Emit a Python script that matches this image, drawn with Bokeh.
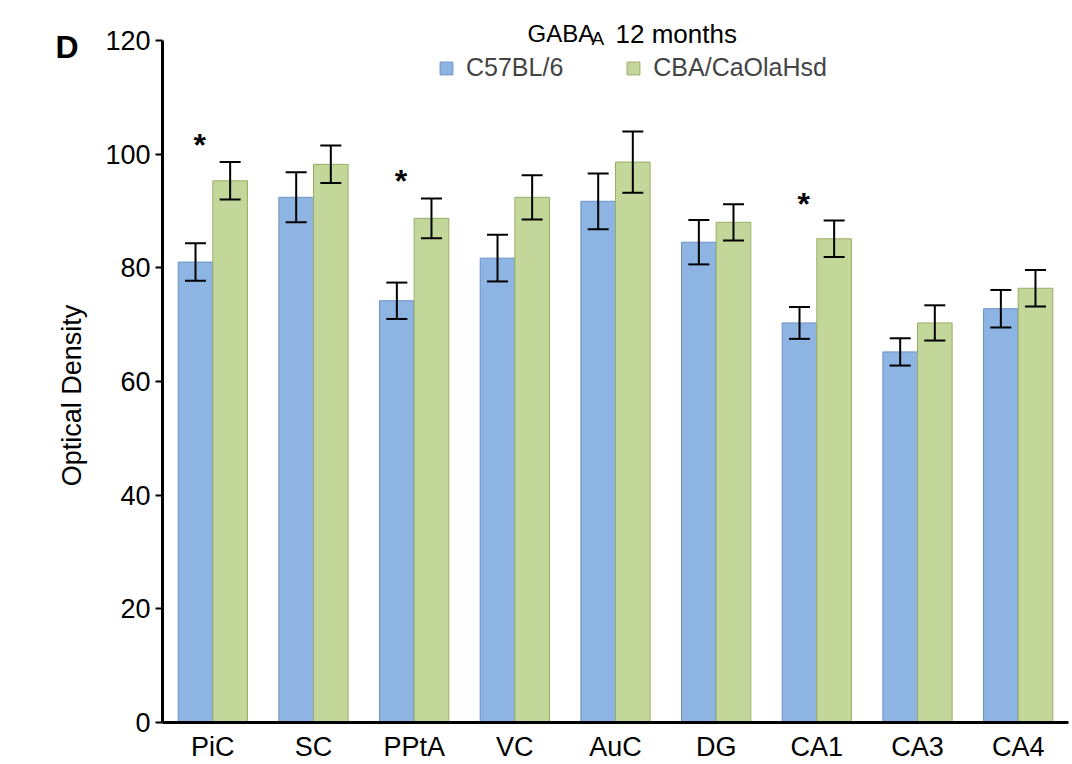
import math
from bokeh.plotting import figure
from bokeh.layouts import row
from bokeh.models import (ColumnDataSource, FactorRange, Range1d, Whisker, TeeHead,
                          Legend, LegendItem, Label, FixedTicker)
from bokeh.transform import dodge
from bokeh.core.properties import value
from bokeh.embed import file_html
from bokeh.resources import INLINE

categories = ["PiC", "SC", "PPtA", "VC", "AuC", "DG", "CA1", "CA3", "CA4"]
c57_mean = [81.0, 92.4, 74.2, 81.7, 91.7, 84.5, 70.3, 65.2, 72.8]
c57_err = [3.3, 4.4, 3.2, 4.1, 4.9, 3.9, 2.8, 2.4, 3.3]
cba_mean = [95.3, 98.2, 88.7, 92.4, 98.6, 88.0, 85.1, 70.3, 76.4]
cba_err = [3.3, 3.3, 3.5, 3.9, 5.4, 3.2, 3.2, 3.1, 3.2]
significant = ["PiC", "PPtA", "CA1"]
y_ticks = [0, 20, 40, 60, 80, 100, 120]
series_names = ["C57BL/6", "CBA/CaOlaHsd"]
y_title = "Optical Density"

FONT = "Liberation Sans"
BLUE_FILL, BLUE_LINE = "#8db4e2", "#6b93c6"
GREEN_FILL, GREEN_LINE = "#c4d79b", "#97ae62"
H = 764

src = ColumnDataSource(dict(
    cat=categories,
    c57=c57_mean, c57_lo=[m - e for m, e in zip(c57_mean, c57_err)],
    c57_hi=[m + e for m, e in zip(c57_mean, c57_err)],
    cba=cba_mean, cba_lo=[m - e for m, e in zip(cba_mean, cba_err)],
    cba_hi=[m + e for m, e in zip(cba_mean, cba_err)],
))

# ---- left strip: panel letter and axis title ----
LW = 95
left = figure(frame_width=LW, frame_height=H, title=None,
              x_range=Range1d(0, LW), y_range=Range1d(0, H),
              output_backend="svg", toolbar_location=None,
              x_axis_location=None, y_axis_location=None,
              min_border_left=0, min_border_right=0, min_border_top=0, min_border_bottom=0)
left.outline_line_color = None
left.grid.visible = False
left.add_layout(Label(x=55, y=H - 46, x_units="screen", y_units="screen", text="D",
                      text_font=FONT, text_font_size="32px", text_font_style="bold",
                      text_color="black", text_baseline="alphabetic"))
left.add_layout(Label(x=71, y=H - 395, x_units="screen", y_units="screen", text=y_title,
                      angle=math.pi / 2, text_font=FONT, text_font_size="27px",
                      text_color="black", text_align="center", text_baseline="alphabetic"))

# ---- main chart: frame spans full height above x axis; y axis bounded 0..120 ----
Y_TOP = 120 * 723 / 683
p = figure(width=1072 - LW, height=H, x_range=FactorRange(*categories, range_padding=0),
           y_range=Range1d(0, Y_TOP), output_backend="svg", toolbar_location=None,
           min_border_left=162 - LW, min_border_right=4, min_border_top=0, min_border_bottom=41)
p.outline_line_color = None
p.grid.visible = False
p.background_fill_color = "white"

off = 0.172
bw = 0.344
r1 = p.vbar(x=dodge("cat", -off, range=p.x_range), top="c57", width=bw, source=src,
            fill_color=BLUE_FILL, line_color=BLUE_LINE, line_width=1)
r2 = p.vbar(x=dodge("cat", off, range=p.x_range), top="cba", width=bw, source=src,
            fill_color=GREEN_FILL, line_color=GREEN_LINE, line_width=1)

for pos, lo, hi in [(-off, "c57_lo", "c57_hi"), (off, "cba_lo", "cba_hi")]:
    w = Whisker(base=dodge("cat", pos, range=p.x_range), lower=lo, upper=hi, source=src,
                line_color="black", line_width=2, level="overlay",
                upper_head=TeeHead(size=21, line_width=2, line_color="black"),
                lower_head=TeeHead(size=21, line_width=2, line_color="black"))
    p.add_layout(w)

# significance markers
sig_src = ColumnDataSource(dict(
    cat=significant,
    y=[cba_mean[categories.index(c)] + cba_err[categories.index(c)] + 3.0 for c in significant],
    t=["*"] * len(significant),
))
p.text(x=dodge("cat", -0.13, range=p.x_range), y="y", text="t", source=sig_src,
       text_font=value(FONT), text_font_style="bold", text_font_size="32px",
       text_align="center", text_baseline="alphabetic", text_color="black")

# axes
p.yaxis.ticker = FixedTicker(ticks=y_ticks)
p.yaxis.bounds = (0, 120)
p.yaxis.major_label_text_font = FONT
p.yaxis.major_label_text_font_size = "27px"
p.yaxis.major_label_standoff = 5
p.yaxis.major_tick_out = 7
p.yaxis.major_tick_in = 0
p.yaxis.major_tick_line_width = 2
p.yaxis.minor_tick_line_color = None
p.yaxis.axis_line_width = 3

p.xaxis.major_label_text_font = FONT
p.xaxis.major_label_text_font_size = "27px"
p.xaxis.major_tick_line_color = None
p.xaxis.major_tick_out = 0
p.xaxis.major_label_standoff = 9
p.xaxis.axis_line_width = 3
for ax in (p.xaxis, p.yaxis):
    ax.axis_line_color = "black"
    ax.major_label_text_color = "black"

# legend
legend = Legend(items=[LegendItem(label=series_names[0], renderers=[r1]),
                       LegendItem(label=series_names[1], renderers=[r2])],
                orientation="horizontal", location=(276, 640),
                glyph_width=16, glyph_height=16, label_standoff=12, spacing=62,
                padding=0, margin=0, border_line_color=None, background_fill_alpha=0,
                label_text_font=FONT, label_text_font_size="25px")
p.add_layout(legend)

# title with subscript
common = dict(x_units="screen", y_units="screen", text_font=FONT, text_color="black",
              text_baseline="alphabetic")
p.add_layout(Label(x=365, y=689, text="GABA", text_font_size="24px", **common))
p.add_layout(Label(x=429, y=684, text="A", text_font_size="19px", **common))
p.add_layout(Label(x=453, y=689, text="12 months", text_font_size="26px", **common))

layout = row(left, p, spacing=0)
open("out.html", "w").write(file_html(layout, INLINE))
